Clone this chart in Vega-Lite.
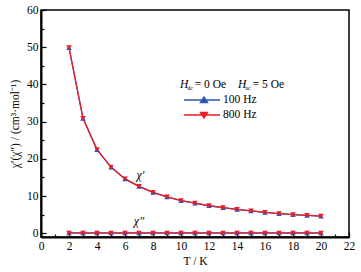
{
  "$schema": "https://vega.github.io/schema/vega-lite/v6.json",
  "width": 308,
  "height": 227,
  "autosize": {"type": "none"},
  "padding": {"left": 41, "top": 10, "right": 12, "bottom": 35},
  "config": {
    "font": "Liberation Serif",
    "view": {"stroke": "#000", "strokeWidth": 1.5},
    "axis": {
      "domainColor": "#000",
      "domainWidth": 2,
      "tickColor": "#000",
      "tickWidth": 1.2,
      "grid": false,
      "labelFont": "Liberation Serif",
      "labelFontSize": 11.5,
      "labelColor": "#000",
      "titleFont": "Liberation Serif",
      "titleFontSize": 11.5,
      "titleFontWeight": "normal",
      "titleColor": "#000"
    },
    "legend": {
      "labelFont": "Liberation Serif",
      "titleFont": "Liberation Serif"
    }
  },
  "datasets": {
    "chi": [
      {"T": 2, "v": 49.9, "f": "100 Hz", "c": "re"}, {"T": 3, "v": 30.9, "f": "100 Hz", "c": "re"},
      {"T": 4, "v": 22.5, "f": "100 Hz", "c": "re"}, {"T": 5, "v": 17.8, "f": "100 Hz", "c": "re"},
      {"T": 6, "v": 14.6, "f": "100 Hz", "c": "re"}, {"T": 7, "v": 12.6, "f": "100 Hz", "c": "re"},
      {"T": 8, "v": 11.0, "f": "100 Hz", "c": "re"}, {"T": 9, "v": 9.8, "f": "100 Hz", "c": "re"},
      {"T": 10, "v": 8.8, "f": "100 Hz", "c": "re"}, {"T": 11, "v": 8.1, "f": "100 Hz", "c": "re"},
      {"T": 12, "v": 7.4, "f": "100 Hz", "c": "re"}, {"T": 13, "v": 6.9, "f": "100 Hz", "c": "re"},
      {"T": 14, "v": 6.4, "f": "100 Hz", "c": "re"}, {"T": 15, "v": 6.0, "f": "100 Hz", "c": "re"},
      {"T": 16, "v": 5.6, "f": "100 Hz", "c": "re"}, {"T": 17, "v": 5.3, "f": "100 Hz", "c": "re"},
      {"T": 18, "v": 5.0, "f": "100 Hz", "c": "re"}, {"T": 19, "v": 4.8, "f": "100 Hz", "c": "re"},
      {"T": 20, "v": 4.6, "f": "100 Hz", "c": "re"},
      {"T": 2, "v": 0.1, "f": "100 Hz", "c": "im"}, {"T": 3, "v": 0.1, "f": "100 Hz", "c": "im"},
      {"T": 4, "v": 0.1, "f": "100 Hz", "c": "im"}, {"T": 5, "v": 0.1, "f": "100 Hz", "c": "im"},
      {"T": 6, "v": 0.1, "f": "100 Hz", "c": "im"}, {"T": 7, "v": 0.1, "f": "100 Hz", "c": "im"},
      {"T": 8, "v": 0.1, "f": "100 Hz", "c": "im"}, {"T": 9, "v": 0.1, "f": "100 Hz", "c": "im"},
      {"T": 10, "v": 0.1, "f": "100 Hz", "c": "im"}, {"T": 11, "v": 0.1, "f": "100 Hz", "c": "im"},
      {"T": 12, "v": 0.1, "f": "100 Hz", "c": "im"}, {"T": 13, "v": 0.1, "f": "100 Hz", "c": "im"},
      {"T": 14, "v": 0.1, "f": "100 Hz", "c": "im"}, {"T": 15, "v": 0.1, "f": "100 Hz", "c": "im"},
      {"T": 16, "v": 0.1, "f": "100 Hz", "c": "im"}, {"T": 17, "v": 0.1, "f": "100 Hz", "c": "im"},
      {"T": 18, "v": 0.1, "f": "100 Hz", "c": "im"}, {"T": 19, "v": 0.1, "f": "100 Hz", "c": "im"},
      {"T": 20, "v": 0.1, "f": "100 Hz", "c": "im"},
      {"T": 2, "v": 49.9, "f": "800 Hz", "c": "re"}, {"T": 3, "v": 30.9, "f": "800 Hz", "c": "re"},
      {"T": 4, "v": 22.5, "f": "800 Hz", "c": "re"}, {"T": 5, "v": 17.8, "f": "800 Hz", "c": "re"},
      {"T": 6, "v": 14.6, "f": "800 Hz", "c": "re"}, {"T": 7, "v": 12.6, "f": "800 Hz", "c": "re"},
      {"T": 8, "v": 11.0, "f": "800 Hz", "c": "re"}, {"T": 9, "v": 9.8, "f": "800 Hz", "c": "re"},
      {"T": 10, "v": 8.8, "f": "800 Hz", "c": "re"}, {"T": 11, "v": 8.1, "f": "800 Hz", "c": "re"},
      {"T": 12, "v": 7.4, "f": "800 Hz", "c": "re"}, {"T": 13, "v": 6.9, "f": "800 Hz", "c": "re"},
      {"T": 14, "v": 6.4, "f": "800 Hz", "c": "re"}, {"T": 15, "v": 6.0, "f": "800 Hz", "c": "re"},
      {"T": 16, "v": 5.6, "f": "800 Hz", "c": "re"}, {"T": 17, "v": 5.3, "f": "800 Hz", "c": "re"},
      {"T": 18, "v": 5.0, "f": "800 Hz", "c": "re"}, {"T": 19, "v": 4.8, "f": "800 Hz", "c": "re"},
      {"T": 20, "v": 4.6, "f": "800 Hz", "c": "re"},
      {"T": 2, "v": 0.05, "f": "800 Hz", "c": "im"}, {"T": 3, "v": 0.05, "f": "800 Hz", "c": "im"},
      {"T": 4, "v": 0.05, "f": "800 Hz", "c": "im"}, {"T": 5, "v": 0.05, "f": "800 Hz", "c": "im"},
      {"T": 6, "v": 0.05, "f": "800 Hz", "c": "im"}, {"T": 7, "v": 0.05, "f": "800 Hz", "c": "im"},
      {"T": 8, "v": 0.05, "f": "800 Hz", "c": "im"}, {"T": 9, "v": 0.05, "f": "800 Hz", "c": "im"},
      {"T": 10, "v": 0.05, "f": "800 Hz", "c": "im"}, {"T": 11, "v": 0.05, "f": "800 Hz", "c": "im"},
      {"T": 12, "v": 0.05, "f": "800 Hz", "c": "im"}, {"T": 13, "v": 0.05, "f": "800 Hz", "c": "im"},
      {"T": 14, "v": 0.05, "f": "800 Hz", "c": "im"}, {"T": 15, "v": 0.05, "f": "800 Hz", "c": "im"},
      {"T": 16, "v": 0.05, "f": "800 Hz", "c": "im"}, {"T": 17, "v": 0.05, "f": "800 Hz", "c": "im"},
      {"T": 18, "v": 0.05, "f": "800 Hz", "c": "im"}, {"T": 19, "v": 0.05, "f": "800 Hz", "c": "im"},
      {"T": 20, "v": 0.05, "f": "800 Hz", "c": "im"}
    ],
    "labels": [
      {"T": 7.1, "v": 15.6, "label": "χ′"},
      {"T": 7.0, "v": 3.2, "label": "χ″"}
    ],
    "headH": [
      {"T": 9.93, "v": 39.1, "label": "H"},
      {"T": 14.07, "v": 39.1, "label": "H"}
    ],
    "headSub": [
      {"T": 10.45, "v": 38.4, "label": "dc"},
      {"T": 14.59, "v": 38.4, "label": "ac"}
    ],
    "headTxt": [
      {"T": 10.98, "v": 39.1, "label": "= 0 Oe"},
      {"T": 15.12, "v": 39.1, "label": "= 5 Oe"}
    ]
  },
  "encoding": {
    "x": {
      "field": "T", "type": "quantitative",
      "scale": {"domain": [0, 22], "nice": false, "zero": false},
      "axis": {
        "title": "T / K",
        "values": [0,1,2,3,4,5,6,7,8,9,10,11,12,13,14,15,16,17,18,19,20,21,22],
        "labelExpr": "datum.value % 2 === 0 ? datum.label : ''",
        "tickSize": {"condition": {"test": "datum.value % 2 === 0", "value": -5}, "value": -3},
        "labelPadding": 8,
        "titlePadding": 4,
        "labelFlush": false
      }
    },
    "y": {
      "field": "v", "type": "quantitative",
      "scale": {"domain": [-1, 60], "nice": false, "zero": false},
      "axis": {
        "title": "χ′(χ″) / (cm³·mol⁻¹)",
        "values": [0,5,10,15,20,25,30,35,40,45,50,55,60],
        "labelExpr": "datum.value % 10 === 0 ? datum.label : ''",
        "tickSize": {"condition": {"test": "datum.value % 10 === 0", "value": -5}, "value": -3},
        "labelPadding": 8,
        "titlePadding": 6,
        "labelFlush": false
      }
    }
  },
  "layer": [
    {
      "data": {"name": "chi"},
      "mark": {"type": "line", "strokeWidth": 1.3},
      "encoding": {
        "color": {"field": "f", "type": "nominal", "scale": {"domain": ["100 Hz", "800 Hz"], "range": ["#2a55b8", "#ee1c24"]}, "legend": null},
        "detail": {"field": "c"}
      }
    },
    {
      "data": {"name": "chi"},
      "mark": {"type": "point", "filled": true, "opacity": 1, "size": 30},
      "encoding": {
        "color": {"field": "f", "type": "nominal", "legend": null},
        "shape": {"field": "f", "type": "nominal", "scale": {"domain": ["100 Hz", "800 Hz"], "range": ["triangle-up", "triangle-down"]}, "legend": null}
      }
    },
    {
      "data": {"name": "chi"},
      "transform": [{"filter": "datum.f === '100 Hz'"}],
      "mark": {"type": "point", "filled": false, "size": 0, "opacity": 1, "strokeWidth": 1.4},
      "encoding": {
        "shape": {"field": "f", "type": "nominal",
          "scale": {"domain": ["100 Hz"], "range": ["M-1,0H6.2M2.3,0.5L3,-0.6L3.7,0.5ZM2.65,0.25L3,-0.3L3.35,0.25Z"]},
          "legend": {
            "title": null,
            "orient": "none", "legendX": 142, "legendY": 84,
            "symbolSize": 100, "labelOffset": 28,
            "labelFont": "Liberation Serif", "labelFontSize": 11.5, "labelColor": "#000",
            "symbolOpacity": 1,
            "symbolStrokeWidth": 1.4,
            "symbolStrokeColor": "#2a55b8",
            "symbolFillColor": "#2a55b8"
          }
        }
      }
    },
    {
      "data": {"name": "chi"},
      "transform": [{"filter": "datum.f === '800 Hz'"}],
      "mark": {"type": "point", "filled": false, "size": 0, "opacity": 1, "strokeWidth": 1.4},
      "encoding": {
        "shape": {"field": "f", "type": "nominal",
          "scale": {"domain": ["800 Hz"], "range": ["M-1,0H6.2M2.3,-0.5L3,0.6L3.7,-0.5ZM2.65,-0.25L3,0.3L3.35,-0.25Z"]},
          "legend": {
            "title": null,
            "orient": "none", "legendX": 142, "legendY": 99,
            "symbolSize": 100, "labelOffset": 28,
            "labelFont": "Liberation Serif", "labelFontSize": 11.5, "labelColor": "#000",
            "symbolOpacity": 1,
            "symbolStrokeWidth": 1.4,
            "symbolStrokeColor": "#ee1c24",
            "symbolFillColor": "#ee1c24"
          }
        }
      }
    },
    {
      "data": {"name": "labels"},
      "mark": {"type": "text", "font": "Liberation Serif", "fontStyle": "italic", "fontSize": 12, "color": "#000"},
      "encoding": {"text": {"field": "label"}}
    },
    {
      "data": {"name": "headH"},
      "mark": {"type": "text", "font": "Liberation Serif", "fontStyle": "italic", "fontSize": 11.5, "color": "#000", "align": "left", "baseline": "alphabetic"},
      "encoding": {"text": {"field": "label"}}
    },
    {
      "data": {"name": "headSub"},
      "mark": {"type": "text", "font": "Liberation Serif", "fontSize": 6, "color": "#000", "align": "left", "baseline": "alphabetic"},
      "encoding": {"text": {"field": "label"}}
    },
    {
      "data": {"name": "headTxt"},
      "mark": {"type": "text", "font": "Liberation Serif", "fontSize": 11.5, "color": "#000", "align": "left", "baseline": "alphabetic"},
      "encoding": {"text": {"field": "label"}}
    }
  ],
  "resolve": {"scale": {"shape": "independent"}}
}
